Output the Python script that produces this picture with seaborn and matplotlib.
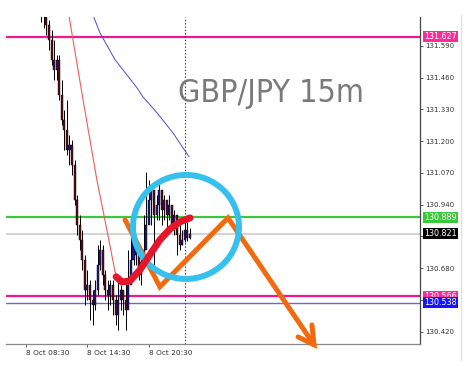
import matplotlib
matplotlib.use("Agg")
import matplotlib.pyplot as plt
from matplotlib.patches import Ellipse
from matplotlib.lines import Line2D
import matplotlib.transforms as mtransforms
import numpy as np
import pandas as pd
import seaborn as sns

# ---------------- data ----------------
# bar index: 15-minute bars, 0 = 8 Oct 08:30
bar_idx = list(range(6, 65))
opens = [131.778, 131.717, 131.737, 131.676, 131.614, 131.533, 131.492, 131.533, 131.389, 131.287,
         131.246, 131.164, 131.185, 131.103, 130.960, 130.857, 130.796, 130.714, 130.591, 130.612,
         130.551, 130.530, 130.591, 130.694, 130.755, 130.653, 130.591, 130.571, 130.612, 130.551,
         130.489, 130.551, 130.591, 130.551, 130.510, 130.612, 130.714, 130.796, 130.735, 130.653,
         130.706, 130.755, 130.857, 130.960, 131.001, 130.898, 130.939, 131.001, 130.919, 130.960,
         130.898, 130.939, 130.857, 130.898, 130.816, 130.776, 130.796, 130.837, 130.804]
closes = [131.717, 131.737, 131.676, 131.614, 131.533, 131.492, 131.533, 131.389, 131.287, 131.246,
          131.164, 131.185, 131.103, 130.960, 130.857, 130.796, 130.714, 130.591, 130.612, 130.551,
          130.530, 130.591, 130.694, 130.755, 130.653, 130.591, 130.571, 130.612, 130.551, 130.489,
          130.551, 130.591, 130.551, 130.510, 130.612, 130.714, 130.796, 130.735, 130.653, 130.706,
          130.755, 130.857, 130.960, 131.001, 130.898, 130.939, 131.001, 130.919, 130.960, 130.898,
          130.939, 130.857, 130.898, 130.816, 130.776, 130.796, 130.837, 130.804, 130.821]
highs = [131.901, 131.860, 131.758, 131.696, 131.655, 131.614, 131.553, 131.553, 131.451, 131.328,
         131.369, 131.226, 131.205, 131.123, 130.980, 130.898, 130.837, 130.735, 130.673, 130.632,
         130.591, 130.632, 130.776, 130.796, 130.776, 130.673, 130.632, 130.632, 130.632, 130.571,
         130.632, 130.612, 130.591, 130.632, 130.755, 130.857, 130.816, 130.817, 130.694, 130.735,
         130.898, 131.074, 131.041, 131.021, 130.980, 130.980, 131.041, 130.980, 130.980, 130.939,
         130.980, 130.939, 130.919, 130.878, 130.857, 130.837, 130.878, 130.870, 130.845]
lows = [131.688, 131.663, 131.635, 131.573, 131.512, 131.451, 131.451, 131.369, 131.267, 131.164,
        131.144, 131.103, 131.062, 130.939, 130.816, 130.755, 130.673, 130.530, 130.551, 130.469,
        130.448, 130.510, 130.571, 130.673, 130.612, 130.551, 130.510, 130.530, 130.489, 130.448,
        130.428, 130.510, 130.489, 130.428, 130.571, 130.673, 130.694, 130.694, 130.632, 130.612,
        130.694, 130.817, 130.878, 130.857, 130.653, 130.878, 130.878, 130.857, 130.878, 130.837,
        130.878, 130.837, 130.816, 130.735, 130.755, 130.776, 130.786, 130.790, 130.798]

red_ma_x = [16.4, 22.3, 27.7, 31.6, 34.8, 36.7, 40.6, 44.5, 48.4, 52.3, 56.3, 60.2, 64.0]
red_ma_y = [131.737, 131.369, 131.041, 130.837, 130.665, 130.632, 130.632, 130.673, 130.735,
            130.796, 130.841, 130.870, 130.886]
blue_ma_x = [25.4, 28.9, 34.8, 43.4, 45.7, 51.2, 57.4, 63.7]
blue_ma_y = [131.737, 131.643, 131.533, 131.418, 131.381, 131.316, 131.234, 131.136]

level_values = [131.627, 130.889, 130.821, 130.566, 130.538]
level_labels = ["131.627", "130.889", "130.821", "130.566", "130.538"]

y_ticks = [131.590, 131.460, 131.330, 131.200, 131.070, 130.940, 130.810, 130.680, 130.550, 130.420]
x_ticks = [0, 24, 48]
x_tick_labels = ["8 Oct 08:30", "8 Oct 14:30", "8 Oct 20:30"]
day_separator = 62

# hand-drawn annotations (bar index, price)
circle_center = (62.5, 130.849)
circle_size = (41.4, 0.4255)
red_curve_x = [35.2, 37.5, 40.6, 44.5, 48.4, 52.3, 56.3, 60.2, 64.1]
red_curve_y = [130.645, 130.624, 130.628, 130.673, 130.735, 130.796, 130.841, 130.870, 130.886]
orange_x = [38.7, 52.3, 78.9, 112.5]
orange_y = [130.878, 130.604, 130.886, 130.367]
arrow_head_x = [106.3, 112.5, 111.7]
arrow_head_y = [130.399, 130.367, 130.448]

title_text = "GBP/JPY 15m"

# ---------------- plot ----------------
sns.set_style("white")
plt.rcParams["font.family"] = ["DejaVu Sans"]

fig = plt.figure(figsize=(4.75, 3.66), dpi=100)
ax = fig.add_axes([6 / 475, 22 / 366, 414 / 475, 327 / 366])

df = pd.DataFrame({"i": bar_idx, "open": opens, "close": closes, "high": highs, "low": lows})
bull = df["close"] >= df["open"]

# wicks
ax.vlines(df["i"], df["low"], df["high"], color="black", lw=0.7, zorder=2)
# bodies
ax.bar(df.loc[bull, "i"], df.loc[bull, "close"] - df.loc[bull, "open"], bottom=df.loc[bull, "open"],
       width=0.8, color="#1a1a8a", edgecolor="black", linewidth=0.3, zorder=3)
ax.bar(df.loc[~bull, "i"], df.loc[~bull, "close"] - df.loc[~bull, "open"], bottom=df.loc[~bull, "open"],
       width=0.8, color="#5c0d16", edgecolor="black", linewidth=0.3, zorder=3)

# moving averages
sns.lineplot(x=red_ma_x, y=red_ma_y, ax=ax, color="#f25a5a", lw=0.8, zorder=2.5)
sns.lineplot(x=blue_ma_x, y=blue_ma_y, ax=ax, color="#4a4ad8", lw=0.7, zorder=2.5)

# horizontal levels
level_line_colors = ["#ec1a8c", "#3cc83c", "#cfcfcf", "#ec1a8c", "#6a6ad0"]
level_line_widths = [1.6, 1.6, 1.3, 1.6, 1.0]
level_box_colors = ["#ff2a9a", "#3cc83c", "#000000", "#ff2a9a", "#1414ff"]
for v, c, lw in zip(level_values, level_line_colors, level_line_widths):
    ax.axhline(v, color=c, lw=lw, zorder=1.5)

# day separator
ax.axvline(day_separator, color="#333333", lw=0.8, ls=(0, (1.2, 1.8)), zorder=1.6)

ax.set_xlim(-7.8, 153.9)
ax.set_ylim(130.370, 131.708)

# axes styling
for s in ["left", "top"]:
    ax.spines[s].set_visible(False)
ax.spines["bottom"].set_color("#8a8a8a")
ax.spines["bottom"].set_linewidth(0.9)
ax.spines["right"].set_color("#444444")
ax.spines["right"].set_linewidth(0.9)

ax.yaxis.tick_right()
ax.set_yticks(y_ticks)
ax.set_yticklabels([f"{t:.3f}" for t in y_ticks])
ax.tick_params(axis="y", which="both", right=True, left=False, length=2, width=0.6, pad=1.5,
               labelsize=5, labelcolor="#333333", color="#444444")
ax.set_xticks(x_ticks)
ax.set_xticklabels(x_tick_labels)
ax.tick_params(axis="x", bottom=True, length=2.5, width=0.6, pad=2, labelsize=5.3,
               labelcolor="#333333", color="#444444")
for lab in ax.get_xticklabels():
    lab.set_horizontalalignment("left")
ax.set_xlabel("")
ax.set_ylabel("")
ax.grid(False)

# price boxes on the right
trans = mtransforms.blended_transform_factory(ax.transAxes, ax.transData)
for v, lab, bc in zip(level_values, level_labels, level_box_colors):
    ax.text(1.0 + 4 / 414, v, lab, transform=trans, ha="left", va="center", fontsize=5.8,
            color="white", zorder=20, clip_on=False,
            bbox=dict(boxstyle="square,pad=0.12", fc=bc, ec="none"))

# annotations
ax.plot(orange_x, orange_y, color="#f26a10", lw=3.6, solid_capstyle="round",
        solid_joinstyle="miter", zorder=5, clip_on=False)
ax.plot(arrow_head_x, arrow_head_y, color="#f26a10", lw=3.6, solid_capstyle="round",
        solid_joinstyle="miter", zorder=5, clip_on=False)
ax.add_patch(Ellipse(circle_center, circle_size[0], circle_size[1], fill=False,
                     ec="#35c0ee", lw=4.3, zorder=6))
sns.lineplot(x=red_curve_x, y=red_curve_y, ax=ax, color="#e5162c", lw=5.0, zorder=7,
             solid_capstyle="round")

ax.text(59.4, 131.361, title_text, ha="left", va="baseline", fontsize=23, color="#7a7a7a",
        family=["DejaVu Sans"], fontstretch="condensed", zorder=8)

# window edge at far right
fig.add_artist(Line2D([461 / 475, 461 / 475], [6 / 366, 351 / 366], color="#e2e2e2", lw=1.0))

fig.savefig("out.png", dpi=100)
